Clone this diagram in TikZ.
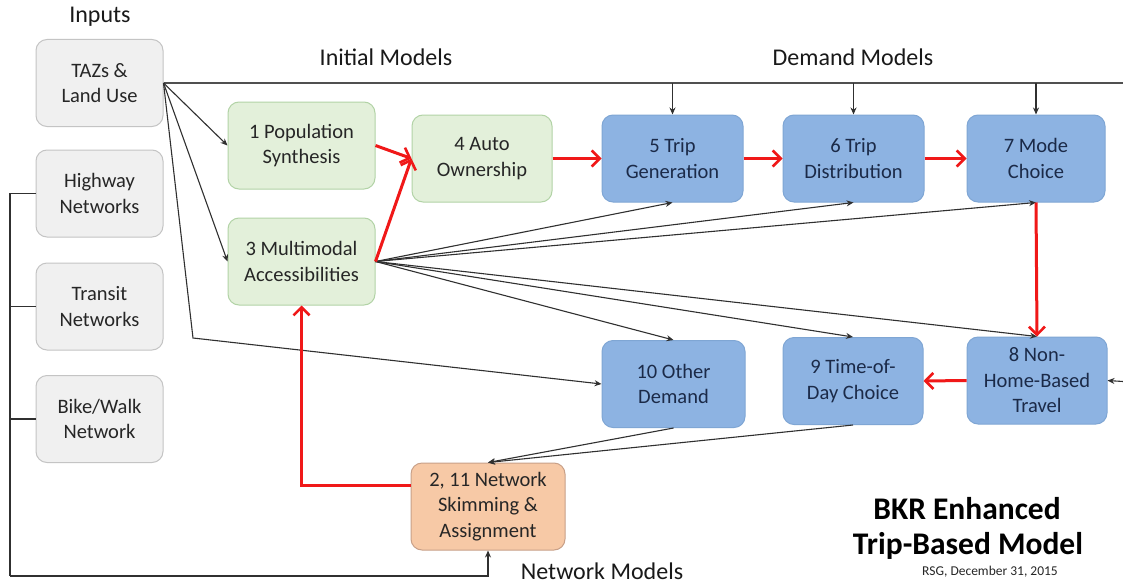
\documentclass[tikz,border=0pt]{standalone}
\usepackage{fontspec}
\setmainfont{Carlito}
\usetikzlibrary{arrows.meta}
\definecolor{grayfill}{HTML}{F0F0F0}
\definecolor{graydraw}{HTML}{C4C4C4}
\definecolor{greenfill}{HTML}{E3F0DA}
\definecolor{greendraw}{HTML}{B2D3A6}
\definecolor{bluefill}{HTML}{8DB3E2}
\definecolor{bluedraw}{HTML}{7FA6D4}
\definecolor{orangefill}{HTML}{F7C9A6}
\definecolor{orangedraw}{HTML}{C8A088}
\definecolor{bluetext}{HTML}{1B2A48}
\definecolor{linegray}{HTML}{303030}
\definecolor{busgray}{HTML}{505050}
\definecolor{flowred}{HTML}{F01818}
\tikzset{
  basebox/.style={rounded corners=11pt, line width=1pt, align=center,
    font=\fontsize{20.5}{25.5}\selectfont, inner sep=0pt},
  inbox/.style={basebox, fill=grayfill, draw=graydraw, text=black!85,
    minimum width=127pt, minimum height=87pt},
  initbox/.style={basebox, fill=greenfill, draw=greendraw, text=black!85,
    minimum width=147pt, minimum height=87pt},
  dembox/.style={basebox, fill=bluefill, draw=bluedraw, text=bluetext,
    minimum width=141pt, minimum height=87pt},
  netbox/.style={basebox, fill=orangefill, draw=orangedraw, text=black!85,
    minimum width=154pt, minimum height=87pt},
  heading/.style={font=\fontsize{24}{28}\selectfont, text=black!90},
  feed/.style={draw=linegray, line width=1.1pt,
    -{Stealth[length=7pt,width=6pt]}},
  plain/.style={draw=linegray, line width=1.1pt},
  bus/.style={draw=busgray, line width=1.6pt},
  flow/.style={draw=flowred, line width=3pt,
    -{Straight Barb[length=8pt,width=16pt,line width=2.6pt]}},
}
\begin{document}
\begin{tikzpicture}[x=1pt,y=-1pt]
\useasboundingbox (0,0) rectangle (1123,586);
\fill[white] (0,0) rectangle (1123,586);

% headings
\node[heading] (hin) at (100,17) {Inputs};
\node[heading] (hinit) at (386,57) {Initial Models};
\node[heading] (hdem) at (853,57) {Demand Models};
\node[heading] (hnet) at (602,571) {Network Models};
\node[font=\bfseries\fontsize{31.5}{34}\selectfont] (t1) at (967,509) {BKR Enhanced};
\node[font=\bfseries\fontsize{31.5}{34}\selectfont] (t2) at (968,546) {Trip-Based Model};
\node[font=\fontsize{13.5}{16}\selectfont, text=black!85] (t3) at (990,572) {RSG, December 31, 2015};

% input boxes
\node[inbox] (taz) at (99.5,83) {TAZs \&\\Land Use};
\node[inbox] (hwy) at (99.5,193.5) {Highway\\Networks};
\node[inbox] (trn) at (99.5,306.5) {Transit\\Networks};
\node[inbox] (bike) at (99.5,419) {Bike/Walk\\Network};

% initial models
\node[initbox] (pop) at (301.5,145.5) {1 Population\\Synthesis};
\node[initbox] (acc) at (301.5,261.5) {3 Multimodal\\Accessibilities};
\node[initbox, minimum width=140pt] (auto) at (482,158.5) {4 Auto\\Ownership};

% demand models
\node[dembox] (gen) at (672.5,158.5) {5 Trip\\Generation};
\node[dembox] (dist) at (853.5,158.5) {6 Trip\\Distribution};
\node[dembox, minimum width=138pt] (mode) at (1036,158.5) {7 Mode\\Choice};
\node[dembox, minimum width=140pt] (nhb) at (1037,380.5) {8 Non-\\Home-Based\\Travel};
\node[dembox, minimum width=140pt] (tod) at (853,381) {9 Time-of-\\Day Choice};
\node[dembox, minimum width=143pt] (oth) at (673.5,384) {10 Other\\Demand};

% network models
\node[netbox] (net) at (488,506.5) {2, 11 Network\\Skimming \&\\Assignment};

% connector points
\coordinate (tazc) at (taz.east);
\coordinate (topr) at (1123,83);
\coordinate (rin) at (1123,381.5);
\coordinate (bend) at (193,338);
\coordinate (lb) at (10,576);
\coordinate (accin) at (acc.east);
\coordinate (netout) at ([yshift=21pt]net.west);
\coordinate (netcorner) at (acc.south |- netout);

% top bus from land use to demand models
\path[bus] (tazc) -- (topr);
\path[feed] (gen.north |- topr) -- (gen.north);
\path[feed] (dist.north |- topr) -- (dist.north);
\path[feed] (mode.north |- topr) -- (mode.north);

% land use into initial models and other demand
\path[feed] (tazc) -- (pop.west);
\path[feed] (tazc) -- (acc.west);
\path[feed] (tazc) -- (bend) -- (oth.west);

% network inputs bracket
\path[plain] (hwy.west) -- (hwy.west -| lb) -- (lb);
\path[plain] (trn.west) -- (trn.west -| lb);
\path[plain] (bike.west) -- (bike.west -| lb);
\path[feed] (lb) -- (lb -| net.south) -- (net.south);

% accessibilities feeding demand models
\path[feed] (accin) -- (gen.south);
\path[feed] (accin) -- (dist.south);
\path[feed] (accin) -- (mode.south);
\path[feed] (accin) -- (oth.north);
\path[feed] (accin) -- (tod.north);
\path[feed] (accin) -- (nhb.north);

% demand into assignment
\path[feed] (oth.south) -- (net.north);
\path[feed] (tod.south) -- (net.north);
\path[feed] (rin) -- (nhb.east);

% main model chain
\path[flow] (pop.east) -- (auto.west);
\path[flow] (acc.east) -- (auto.west);
\path[flow] (auto.east) -- (gen.west);
\path[flow] (gen.east) -- (dist.west);
\path[flow] (dist.east) -- (mode.west);
\path[flow] (mode.south) -- (nhb.north);
\path[flow] (nhb.west) -- (tod.east);
\path[flow] (netout) -- (netcorner) -- (acc.south);
\end{tikzpicture}
\end{document}
